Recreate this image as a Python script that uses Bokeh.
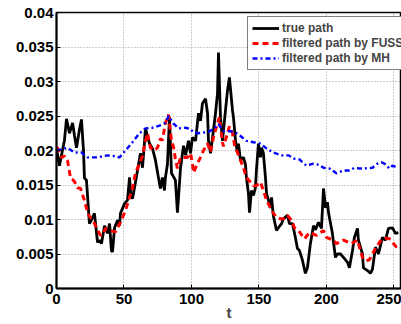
from bokeh.plotting import figure
from bokeh.models import Legend, LegendItem, FixedTicker
from bokeh.embed import file_html
from bokeh.resources import INLINE

# true path
t_true = [0, 0.7, 2.2, 4.4, 5.9, 7.4, 9.6, 11.9, 13.3, 14.8, 17, 18.5, 20, 20.7, 22.2, 24.4, 26, 28.1,
          30.4, 31.9, 33.3, 35.6, 37.8, 39.3, 40.7, 41.5, 43, 45.2, 46.7, 47.4, 50.4, 52.6, 54.1, 54.8,
          56.3, 57.8, 60, 62.2, 63.7, 65.2, 65.9, 68.9, 71.1, 73.3, 76.3, 77, 78.5, 80, 80.7, 82.2, 83.7,
          85.2, 88.1, 89.6, 90.4, 91.9, 94.1, 95.6, 97.8, 99.3, 100.7, 103, 105.2, 106.7, 108.1, 110.4,
          111.9, 112.6, 114.1, 115.6, 116.3, 117.8, 119.3, 120, 121.5, 123, 123.7, 125.2, 126.7, 128.1,
          130.4, 131.1, 132.6, 134.1, 134.8, 136.3, 138.5, 140, 140.7, 142.2, 143, 144.4, 145.9, 147.4,
          148.1, 149.6, 151.1, 151.9, 153.3, 154.8, 155.6, 157, 158.5, 159.3, 160.7, 163, 164.4, 166.7,
          168.1, 171.1, 172.6, 174.8, 177, 178.5, 180, 182.2, 184.4, 185.9, 188.1, 190.4, 191.9, 194.1,
          196.3, 197.8, 199.3, 200.7, 201.5, 204.4, 205.2, 206.7, 208.1, 210.4, 212.6, 215.6, 217, 219.3,
          220.7, 223, 223.7, 226.7, 227.4, 230.4, 232.6, 234.1, 236.3, 238.5, 241.5, 243.7, 245.9, 248.9,
          251.1, 253.3]
v_true = [0.0200, 0.0195, 0.0178, 0.0200, 0.0215, 0.0246, 0.0225, 0.0240, 0.0222, 0.0204, 0.0230, 0.0245,
          0.0200, 0.0160, 0.0157, 0.0094, 0.0100, 0.0109, 0.0067, 0.0070, 0.0065, 0.0091, 0.0080, 0.0094,
          0.0055, 0.0053, 0.0088, 0.0099, 0.0091, 0.0109, 0.0123, 0.0128, 0.0161, 0.0142, 0.0130, 0.0146,
          0.0171, 0.0196, 0.0175, 0.0212, 0.0232, 0.0210, 0.0203, 0.0186, 0.0152, 0.0145, 0.0161, 0.0142,
          0.0161, 0.0180, 0.0248, 0.0167, 0.0157, 0.0110, 0.0132, 0.0175, 0.0207, 0.0193, 0.0214, 0.0196,
          0.0219, 0.0214, 0.0254, 0.0243, 0.0268, 0.0275, 0.0254, 0.0214, 0.0196, 0.0219, 0.0229, 0.0254,
          0.0283, 0.0342, 0.0248, 0.0214, 0.0229, 0.0258, 0.0287, 0.0306, 0.0258, 0.0248, 0.0215, 0.0196,
          0.0210, 0.0186, 0.0190, 0.0180, 0.0161, 0.0138, 0.0110, 0.0142, 0.0135, 0.0146, 0.0171, 0.0210,
          0.0190, 0.0204, 0.0196, 0.0161, 0.0138, 0.0128, 0.0117, 0.0132, 0.0105, 0.0084, 0.0088, 0.0094,
          0.0101, 0.0106, 0.0094, 0.0094, 0.0074, 0.0058, 0.0055, 0.0041, 0.0022, 0.0030, 0.0065, 0.0091,
          0.0085, 0.0096, 0.0087, 0.0145, 0.0117, 0.0125, 0.0110, 0.0080, 0.0067, 0.0045, 0.0050, 0.0050,
          0.0045, 0.0038, 0.0030, 0.0055, 0.0074, 0.0087, 0.0070, 0.0050, 0.0030, 0.0026, 0.0022, 0.0028,
          0.0060, 0.0050, 0.0074, 0.0070, 0.0087, 0.0088, 0.0080, 0.0081]

# filtered path by FUSS
t_fuss = [0, 0.7, 3.7, 5.9, 8.1, 10.4, 11.9, 13.3, 15.6, 17.8, 20, 23, 24.4, 26.7, 29.6, 32.6, 34.1, 36.3,
          40, 43.7, 47.4, 51.1, 54.1, 56.3, 58.5, 61.5, 63.7, 65.9, 67.4, 69.6, 72.6, 74.8, 77, 78.5, 80.7,
          83, 85.2, 86.7, 88.1, 89.6, 91.9, 97, 99.3, 100.7, 101.5, 104.4, 106.7, 108.9, 111.9, 114.1,
          116.3, 119.3, 120.7, 123, 123.7, 126.7, 128.1, 130.4, 131.9, 134.1, 136.3, 138.5, 140.7, 143.7,
          145.9, 148.1, 151.1, 153.3, 155.6, 158.5, 160.7, 163, 165.9, 168.1, 171.1, 174.1, 176.3, 179.3,
          183.7, 187.4, 192.6, 197.8, 200, 205.2, 207.4, 212.6, 218.5, 223, 224.4, 226.7, 229.6, 231.9,
          234.1, 237, 239.3, 241.5, 244.4, 246.7, 248.9, 251.9, 253.3]
v_fuss = [0.0205, 0.0204, 0.0190, 0.0192, 0.0186, 0.0160, 0.0158, 0.0155, 0.0146, 0.0145, 0.0132, 0.0111,
          0.0104, 0.0100, 0.0088, 0.0077, 0.0078, 0.0087, 0.0084, 0.0082, 0.0096, 0.0113, 0.0132, 0.0146,
          0.0167, 0.0181, 0.0192, 0.0214, 0.0225, 0.0204, 0.0200, 0.0204, 0.0217, 0.0215, 0.0240, 0.0252,
          0.0214, 0.0205, 0.0188, 0.0174, 0.0190, 0.0190, 0.0196, 0.0181, 0.0168, 0.0181, 0.0190, 0.0200,
          0.0210, 0.0198, 0.0219, 0.0240, 0.0248, 0.0212, 0.0206, 0.0225, 0.0235, 0.0225, 0.0208, 0.0197,
          0.0186, 0.0175, 0.0161, 0.0154, 0.0149, 0.0149, 0.0154, 0.0142, 0.0128, 0.0117, 0.0109, 0.0103,
          0.0101, 0.0101, 0.0106, 0.0099, 0.0088, 0.0084, 0.0072, 0.0081, 0.0077, 0.0084, 0.0074, 0.0070,
          0.0065, 0.0070, 0.0065, 0.0070, 0.0060, 0.0045, 0.0040, 0.0042, 0.0050, 0.0060, 0.0067, 0.0072,
          0.0073, 0.0072, 0.0067, 0.0060, 0.0062]

# filtered path by MH
t_mh = [0, 4.4, 8.1, 13.3, 18.5, 23, 30.4, 37.8, 42.2, 46.7, 51.1, 56.3, 61.5, 65.9, 71.1, 76.3, 80.7, 83,
        86.7, 90.4, 95.6, 99.3, 101.5, 105.2, 108.9, 112.6, 116.3, 120, 123.7, 128.9, 132.6, 136.3, 140.7,
        145.9, 151.1, 155.6, 160.7, 166.7, 171.9, 176.3, 180, 185.2, 190.4, 194.8, 197.8, 202.2, 207.4,
        212.6, 217, 220.7, 224.4, 228.1, 234.1, 237.8, 240.7, 243, 246.7, 248.9, 252.6]
v_mh = [0.0200, 0.0202, 0.0204, 0.0197, 0.0197, 0.0190, 0.0190, 0.0193, 0.0192, 0.0190, 0.0200, 0.0212,
        0.0225, 0.0232, 0.0233, 0.0236, 0.0240, 0.0250, 0.0239, 0.0232, 0.0233, 0.0231, 0.0226, 0.0225,
        0.0226, 0.0227, 0.0231, 0.0238, 0.0228, 0.0228, 0.0226, 0.0221, 0.0214, 0.0212, 0.0210, 0.0203,
        0.0197, 0.0193, 0.0193, 0.0188, 0.0187, 0.0178, 0.0181, 0.0179, 0.0175, 0.0174, 0.0167, 0.0171,
        0.0171, 0.0175, 0.0174, 0.0174, 0.0175, 0.0181, 0.0183, 0.0181, 0.0174, 0.0178, 0.0175]

x_ticks = [0, 50, 100, 150, 200, 250]
y_ticks = [0, 0.005, 0.01, 0.015, 0.02, 0.025, 0.03, 0.035, 0.04]
y_tick_labels = ["0", "0.005", "0.01", "0.015", "0.02", "0.025", "0.03", "0.035", "0.04"]
series_labels = ["true path", "filtered path by FUSS", "filtered path by MH"]
x_axis_title = "t"

FONT = "Liberation Sans"

p = figure(width=401, height=324, x_range=(0, 255.6), y_range=(0, 0.04),
           output_backend="svg", toolbar_location=None,
           min_border_left=56, min_border_right=0, min_border_top=12, min_border_bottom=36)
p.background_fill_color = "white"
p.border_fill_color = "white"
p.outline_line_color = "black"
p.outline_line_width = 1.5

r_true = p.line(t_true, v_true, line_color="black", line_width=2.8)
r_fuss = p.line(t_fuss, v_fuss, line_color="red", line_width=3, line_dash="6 4")
r_mh = p.line(t_mh, v_mh, line_color="blue", line_width=2.4, line_dash="5 3 2 3")

p.xaxis.ticker = FixedTicker(ticks=x_ticks)
p.yaxis.ticker = FixedTicker(ticks=y_ticks)
p.yaxis.major_label_overrides = {t: l for t, l in zip(y_ticks, y_tick_labels)}
p.xaxis.axis_label = x_axis_title

for ax in (p.xaxis[0], p.yaxis[0]):
    ax.axis_line_color = "black"
    ax.axis_line_width = 2
    ax.major_tick_in = 4
    ax.major_tick_out = 0
    ax.minor_tick_in = 0
    ax.minor_tick_out = 0
    ax.major_tick_line_color = "black"
    ax.major_tick_line_width = 1
    ax.major_label_text_font = FONT
    ax.major_label_text_font_style = "bold"
    ax.major_label_text_font_size = "15px"
    ax.major_label_text_color = "black"
    ax.major_label_standoff = 3
p.xaxis.major_label_standoff = 5
p.xaxis.axis_label_text_font = FONT
p.xaxis.axis_label_text_font_style = "bold"
p.xaxis.axis_label_text_font_size = "15px"
p.xaxis.axis_label_standoff = -3

p.grid.grid_line_color = "#9a9a9a"
p.grid.grid_line_dash = "1 2"
p.grid.grid_line_width = 1

legend = Legend(items=[LegendItem(label=series_labels[0], renderers=[r_true]),
                       LegendItem(label=series_labels[1], renderers=[r_fuss]),
                       LegendItem(label=series_labels[2], renderers=[r_mh])],
                location=(191, 218))
legend.label_text_font = FONT
legend.label_text_font_style = "bold"
legend.label_text_font_size = "12px"
legend.label_height = 14
legend.glyph_height = 14
legend.glyph_width = 27
legend.label_standoff = 3
legend.spacing = 1
legend.padding = 4
legend.margin = 0
legend.border_line_color = "black"
legend.border_line_width = 1.5
legend.background_fill_color = "white"
legend.background_fill_alpha = 1
p.add_layout(legend, "center")

open("out.html", "w").write(file_html(p, INLINE))
